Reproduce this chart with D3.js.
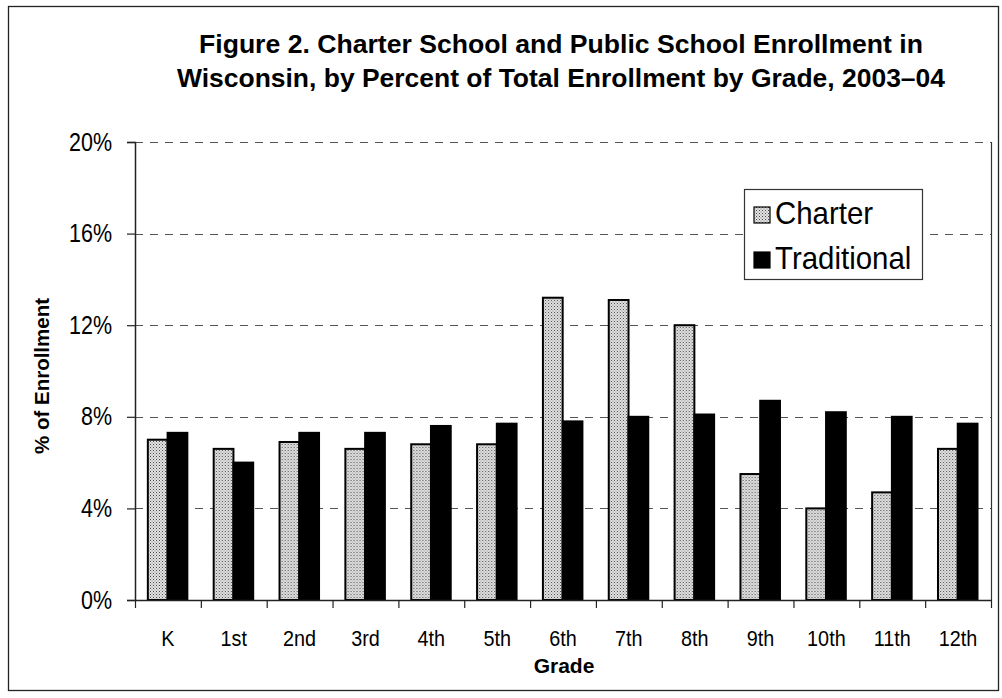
<!DOCTYPE html>
<html><head><meta charset="utf-8">
<script src="https://cdn.jsdelivr.net/npm/d3@7"></script>
<style>body{margin:0;background:#fff}</style>
</head><body>
<svg id="c" width="1002" height="698"></svg>
<script>
const grades=["K","1st","2nd","3rd","4th","5th","6th","7th","8th","9th","10th","11th","12th"];
const seriesNames=["Charter","Traditional"];
const charter=[7.0,6.6,6.9,6.6,6.8,6.8,13.2,13.1,12.0,5.5,4.0,4.7,6.6];
const traditional=[7.3,6.0,7.3,7.3,7.6,7.7,7.8,8.0,8.1,8.7,8.2,8.0,7.7];
const yTicks=[0,4,8,12,16,20];
const titleLines=["Figure 2. Charter School and Public School Enrollment in","Wisconsin, by Percent of Total Enrollment by Grade, 2003\u201304"];
const xTitle="Grade", yTitle="% of Enrollment";

const FONT='"Liberation Sans", Arial, sans-serif';
const svg=d3.select("#c");
const W=1002,H=698;
const L=135,R=991,T=142,B=600;

// defs: stipple pattern
const defs=svg.append("defs");
const pat=defs.append("pattern").attr("id","dots").attr("patternUnits","userSpaceOnUse").attr("width",3).attr("height",3);
pat.append("rect").attr("width",3).attr("height",3).attr("fill","#e2e2e2");
pat.append("rect").attr("x",0).attr("y",0).attr("width",1).attr("height",1).attr("fill","#4a4a4a");
pat.append("rect").attr("x",1.5).attr("y",1.5).attr("width",1).attr("height",1).attr("fill","#7a7a7a");

svg.append("rect").attr("width",W).attr("height",H).attr("fill","#fff");
// outer border
svg.append("rect").attr("x",8.5).attr("y",6.5).attr("width",990).attr("height",684).attr("fill","none").attr("stroke","#222").attr("stroke-width",1.3);

const x=d3.scaleBand().domain(grades).range([L,R]).paddingInner(0).paddingOuter(0);
const xs=d3.scaleBand().domain(seriesNames).range([x.bandwidth()*0.195,x.bandwidth()*0.795]);
const y=d3.scaleLinear().domain([0,20]).range([B,T]);
const fill={Charter:"url(#dots)",Traditional:"#000"};

// gridlines
svg.append("g").selectAll("line").data(yTicks.filter(d=>d>0)).join("line")
  .attr("x1",L).attr("x2",R).attr("y1",d=>Math.round(y(d))+0.5).attr("y2",d=>Math.round(y(d))+0.5)
  .attr("stroke","#555").attr("stroke-width",1.2).attr("stroke-dasharray","8,7");
// right border of plot
svg.append("line").attr("x1",R+0.5).attr("x2",R+0.5).attr("y1",T).attr("y2",B).attr("stroke","#333").attr("stroke-width",1.2);

// bars
const data=grades.map((g,i)=>({g,vals:[{s:"Charter",v:charter[i]},{s:"Traditional",v:traditional[i]}]}));
const gg=svg.append("g").selectAll("g").data(data).join("g").attr("transform",d=>`translate(${x(d.g)},0)`);
gg.selectAll("rect").data(d=>d.vals).join("rect")
  .attr("x",d=>xs(d.s)).attr("width",xs.bandwidth())
  .attr("y",d=>y(d.v)).attr("height",d=>B-y(d.v))
  .attr("fill",d=>fill[d.s]).attr("stroke","#000").attr("stroke-width",2);

// y axis
const yAxis=d3.axisLeft(y).tickValues(yTicks).tickSize(8).tickFormat(d=>"");
const ya=svg.append("g").attr("transform",`translate(${L},0)`).call(yAxis);
ya.select(".domain").attr("stroke","#222").attr("stroke-width",1.5);
ya.selectAll(".tick line").attr("stroke","#222").attr("stroke-width",1.2);
svg.append("g").selectAll("text").data(yTicks).join("text")
  .attr("transform",d=>`translate(112,${y(d)+8.5}) scale(0.86,1)`)
  .attr("text-anchor","end").attr("font-family",FONT).attr("font-size",25).attr("fill","#000")
  .text(d=>d+"%");

// x axis
const xa=svg.append("g").attr("transform",`translate(0,${B})`);
xa.append("line").attr("x1",L).attr("x2",R+1).attr("y1",0.5).attr("y2",0.5).attr("stroke","#222").attr("stroke-width",1.5);
const bounds=grades.map(g=>x(g)).concat([R]);
xa.selectAll("line.tk").data(bounds).join("line").attr("class","tk")
  .attr("x1",d=>d+0.5).attr("x2",d=>d+0.5).attr("y1",0).attr("y2",8).attr("stroke","#222").attr("stroke-width",1.2);
svg.append("g").selectAll("text").data(grades).join("text")
  .attr("transform",d=>`translate(${x(d)+x.bandwidth()/2},646) scale(0.88,1)`)
  .attr("text-anchor","middle").attr("font-family",FONT).attr("font-size",22.5).attr("fill","#000")
  .text(d=>d);

// axis titles
svg.append("text").attr("x",564).attr("y",673).attr("text-anchor","middle")
  .attr("font-family",FONT).attr("font-weight","bold").attr("font-size",21).text(xTitle);
svg.append("text").attr("transform","translate(49,376) rotate(-90)").attr("text-anchor","middle")
  .attr("font-family",FONT).attr("font-weight","bold").attr("font-size",20.5).text(yTitle);

// title
const tw=[724,768], ty=[53,87];
svg.append("g").selectAll("text").data(titleLines).join("text")
  .attr("x",561).attr("y",(d,i)=>ty[i]).attr("text-anchor","middle")
  .attr("font-family",FONT).attr("font-weight","bold").attr("font-size",25.5)
  .attr("textLength",(d,i)=>tw[i]).attr("lengthAdjust","spacingAndGlyphs")
  .text(d=>d);

// legend
const lg=svg.append("g").attr("transform","translate(744,189)");
lg.append("rect").attr("x",0.5).attr("y",0.5).attr("width",178).attr("height",90).attr("fill","#fff").attr("stroke","#333").attr("stroke-width",1.2);
const li=lg.selectAll("g").data(seriesNames).join("g").attr("transform",(d,i)=>`translate(0,${i*45})`);
li.append("rect").attr("x",10).attr("y",18).attr("width",16).attr("height",16).attr("fill",d=>fill[d]).attr("stroke","#000").attr("stroke-width",1.2);
li.append("text").attr("transform","translate(31,35) scale(0.92,1)").attr("font-family",FONT).attr("font-size",32).attr("fill","#000").text(d=>d);
</script>
</body></html>
